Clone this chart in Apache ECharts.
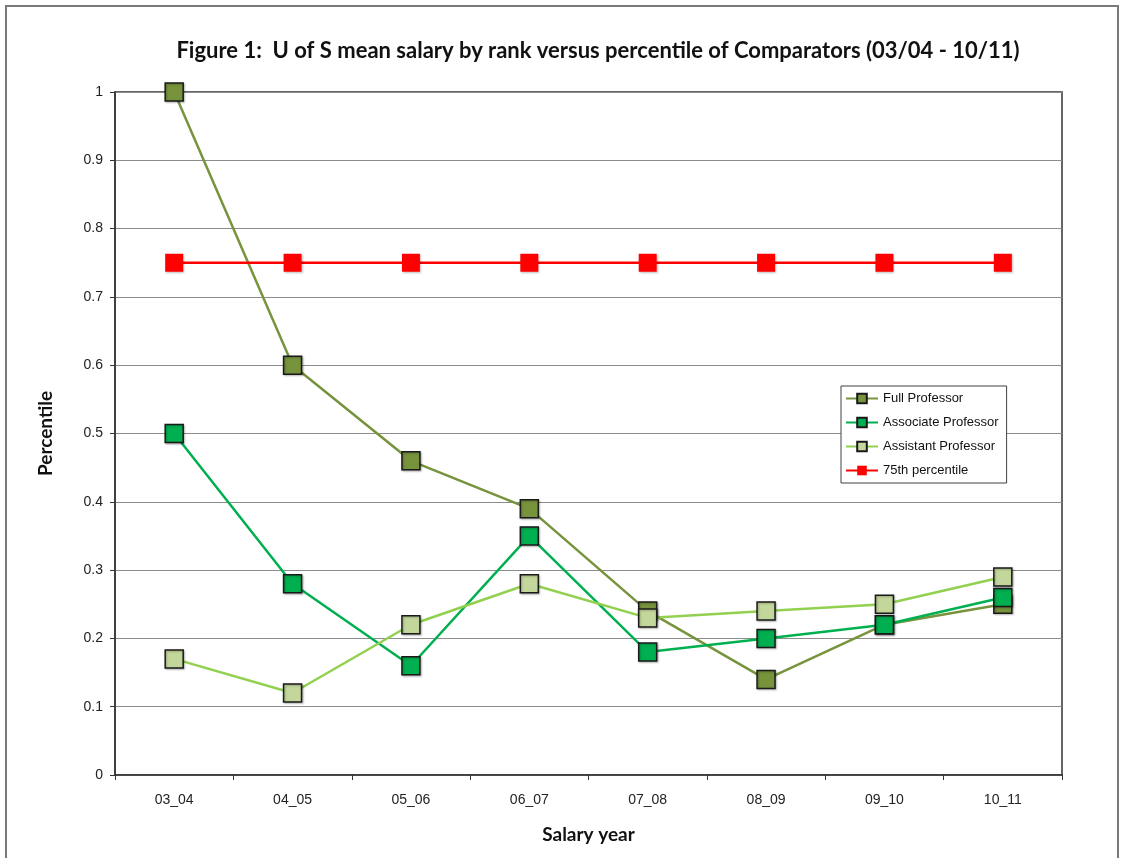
<!DOCTYPE html>
<html>
<head>
<meta charset="utf-8">
<script src="https://cdn.jsdelivr.net/npm/echarts@6/dist/echarts.min.js"></script>
<style>
  html, body { margin: 0; padding: 0; background: #ffffff; }
  #chart { width: 1123px; height: 858px; }
</style>
</head>
<body>
<div id="chart"></div>
<script>
// Salary years on the category axis
const years = ['03_04', '04_05', '05_06', '06_07', '07_08', '08_09', '09_10', '10_11'];

// Mean salary percentile by rank
const fullProfessor      = [1.00, 0.60, 0.46, 0.39, 0.24, 0.14, 0.22, 0.25];
const associateProfessor = [0.50, 0.28, 0.16, 0.35, 0.18, 0.20, 0.22, 0.26];
const assistantProfessor = [0.17, 0.12, 0.22, 0.28, 0.23, 0.24, 0.25, 0.29];
const target75th         = [0.75, 0.75, 0.75, 0.75, 0.75, 0.75, 0.75, 0.75];

const seriesNames = ['Full Professor', 'Associate Professor', 'Assistant Professor', '75th percentile'];

const chart = echarts.init(document.getElementById('chart'), null, { renderer: 'canvas' });

function rankSeries(name, data, lineColor, fillColor, withBorder) {
  return {
    name: name,
    type: 'line',
    data: data,
    symbol: 'rect',
    symbolSize: 18,
    showAllSymbol: true,
    lineStyle: { color: lineColor, width: 2.5 },
    itemStyle: {
      color: fillColor,
      borderColor: withBorder ? '#1a1a1a' : fillColor,
      borderWidth: withBorder ? 1.5 : 0,
      shadowColor: 'rgba(0,0,0,0.25)',
      shadowBlur: 2,
      shadowOffsetX: 1,
      shadowOffsetY: 1
    },
    emphasis: { disabled: true },
    animation: false
  };
}

const axisFont = { fontFamily: 'Liberation Sans, Arial, sans-serif', fontSize: 14, color: '#222' };
const nameFont = { fontFamily: 'Lato, sans-serif', fontWeight: 'bold', fontSize: 19, color: '#111' };

chart.setOption({
  backgroundColor: '#ffffff',
  animation: false,
  title: {
    text: 'Figure 1:  U of S mean salary by rank versus percentile of Comparators (03/04 - 10/11)',
    left: 593,
    textAlign: 'center',
    top: 35,
    textStyle: { fontFamily: 'Lato, sans-serif', fontWeight: 'bold', fontSize: 22, color: '#111' }
  },
  graphic: [{
    type: 'rect',
    shape: { x: 6, y: 6, width: 1112, height: 870 },
    style: { fill: 'none', stroke: '#7a7a7a', lineWidth: 2 },
    silent: true,
    z: -1
  }],
  legend: {
    data: seriesNames,
    orient: 'vertical',
    left: 841,
    top: 386,
    padding: [6, 8, 6, 4],
    itemGap: 11,
    itemWidth: 32,
    itemHeight: 12,
    backgroundColor: '#ffffff',
    borderColor: '#404040',
    borderWidth: 1,
    textStyle: { fontFamily: 'Liberation Sans, Arial, sans-serif', fontSize: 13, color: '#111' },
    selectedMode: false
  },
  grid: {
    left: 115, right: 61, top: 92, bottom: 83,
    show: true,
    borderColor: '#333',
    borderWidth: 1.5,
    containLabel: false
  },
  xAxis: {
    type: 'category',
    data: years,
    boundaryGap: true,
    name: 'Salary year',
    nameLocation: 'middle',
    nameGap: 50,
    nameTextStyle: nameFont,
    axisLine: { lineStyle: { color: '#333', width: 1.5 } },
    axisTick: { show: true, length: 5, lineStyle: { color: '#333' } },
    axisLabel: Object.assign({ margin: 18 }, axisFont),
    splitLine: { show: false }
  },
  yAxis: {
    type: 'value',
    min: 0,
    max: 1,
    interval: 0.1,
    name: 'Percentile',
    nameLocation: 'middle',
    nameGap: 60,
    nameRotate: 90,
    nameTextStyle: nameFont,
    axisLine: { show: true, lineStyle: { color: '#333', width: 1.5 } },
    axisTick: { show: true, length: 5, lineStyle: { color: '#333' } },
    axisLabel: Object.assign({ margin: 12, formatter: v => String(Math.round(v * 10) / 10) }, axisFont),
    splitLine: { show: true, lineStyle: { color: '#8c8c8c', width: 1.2 } }
  },
  series: [
    rankSeries(seriesNames[0], fullProfessor, '#77933C', '#77933C', true),
    rankSeries(seriesNames[1], associateProfessor, '#00B050', '#00B050', true),
    rankSeries(seriesNames[2], assistantProfessor, '#92D050', '#C3D69B', true),
    rankSeries(seriesNames[3], target75th, '#FF0000', '#FF0000', false)
  ]
});
</script>
</body>
</html>
